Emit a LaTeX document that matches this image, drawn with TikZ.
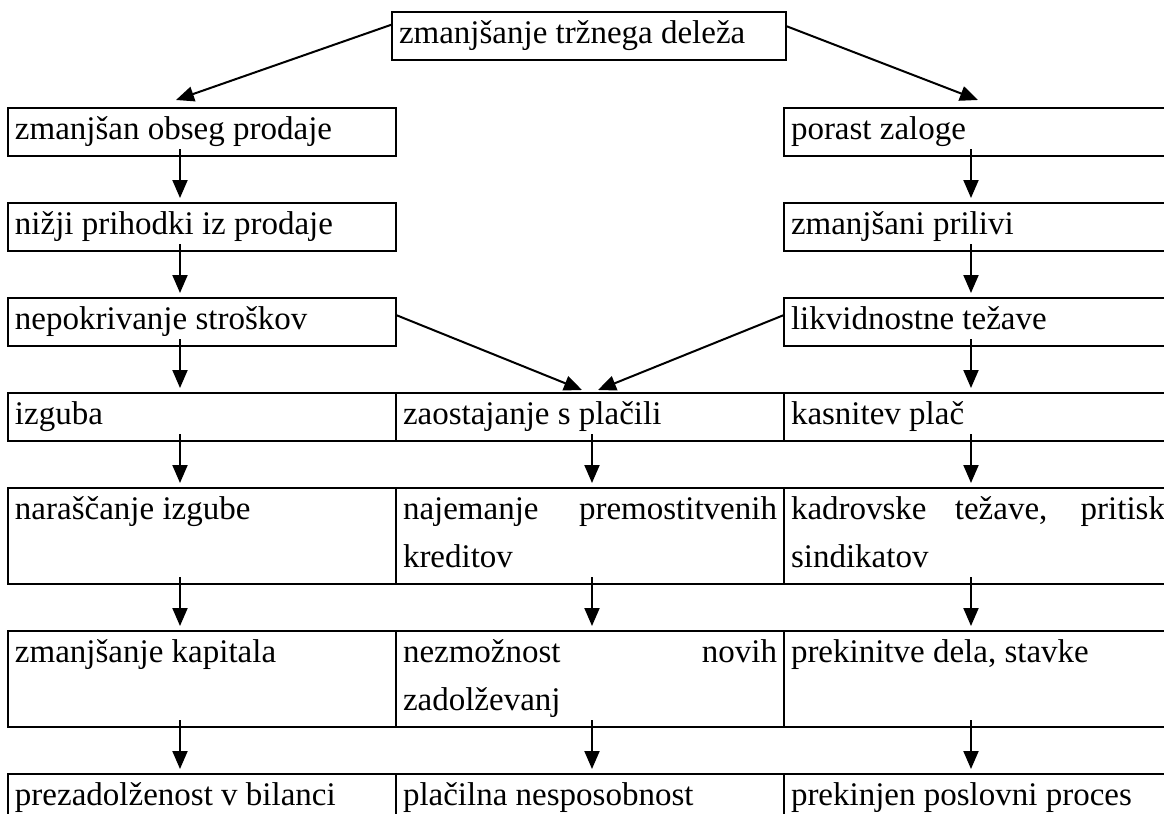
\documentclass[tikz,border=0pt]{standalone}
\usepackage{fontspec}
\setmainfont{Liberation Serif}
\usetikzlibrary{positioning,arrows.meta}
\hyphenpenalty=10000
\exhyphenpenalty=10000
\hbadness=10000
\tikzset{
  cell/.style     = {draw, line width=1pt, rectangle, anchor=north west,
                     inner xsep=3.5pt, inner ysep=0pt, outer sep=0pt,
                     text width=187pt, align=justify,
                     font=\fontsize{16.5}{24}\selectfont,
                     text height=15.6pt, text depth=8.4pt},
  tallcell/.style = {cell, text depth=32.4pt},
  flow/.style     = {black, line width=1pt, -{Triangle[length=9pt,width=7.5pt]}},
  vflow/.style    = {flow, shorten <=-3.5pt, shorten >=2.5pt},
  leftcol/.style  = {transform canvas={xshift=-11pt}},
  midcol/.style   = {transform canvas={xshift=1pt}},
  rightcol/.style = {transform canvas={xshift=-3.5pt}},
}

\begin{document}
\begin{tikzpicture}[node distance=23.5pt and 0pt]
  \useasboundingbox (0,0) rectangle (582pt,-407pt);
  \clip (0,0) rectangle (582pt,-407pt);

  \node[cell, text width=190pt, align=flush left] (delez) at (196pt,-6pt) {zmanjšanje tržnega deleža};

  % levi stolpec
  \node[cell] (obseg) at (4pt,-54pt) {zmanjšan obseg prodaje};
  \node[cell, below=of obseg] (prihodki) {nižji prihodki iz prodaje};
  \node[cell, below=of prihodki] (stroski) {nepokrivanje stroškov};
  \node[cell, below=of stroski] (izguba) {izguba};
  \node[tallcell, below=of izguba] (rast) {naraščanje izgube};
  \node[tallcell, below=of rast] (kapital) {zmanjšanje kapitala};
  \node[cell, below=of kapital] (bilanca) {prezadolženost v bilanci};

  % desni stolpec
  \node[cell] (zaloge) at (392pt,-54pt) {porast zaloge};
  \node[cell, below=of zaloge] (prilivi) {zmanjšani prilivi};
  \node[cell, below=of prilivi] (likvid) {likvidnostne težave};

  % tabela spodaj
  \node[cell, right=of izguba] (zaostaj) {zaostajanje s plačili};
  \node[cell, right=of zaostaj] (place) {kasnitev plač};
  \node[tallcell, right=of rast] (krediti) {najemanje premostitvenih\linebreak kreditov};
  \node[tallcell, right=of krediti] (kadri) {kadrovske težave, pritisk\linebreak sindikatov};
  \node[tallcell, right=of kapital] (zadolz) {nezmožnost novih\linebreak zadolževanj};
  \node[tallcell, right=of zadolz] (stavke) {prekinitve dela, stavke};
  \node[cell, right=of bilanca] (nesposob) {plačilna nesposobnost};
  \node[cell, right=of nesposob] (proces) {prekinjen poslovni proces};

  \draw[flow] ([yshift=5.75pt]delez.west) -- ([xshift=-13pt,yshift=4pt]obseg.north);
  \draw[flow] ([yshift=5pt]delez.east) -- ([yshift=4pt]zaloge.north);
  \draw[flow] ([yshift=3.5pt]stroski.east) -- ([xshift=-4pt,yshift=1.5pt]zaostaj.north);
  \draw[flow] ([yshift=3.5pt]likvid.west) -- ([xshift=4pt,yshift=1.5pt]zaostaj.north);

  \draw[vflow, leftcol] (obseg) -- (prihodki);
  \draw[vflow, leftcol] (prihodki) -- (stroski);
  \draw[vflow, leftcol] (stroski) -- (izguba);
  \draw[vflow, leftcol] (izguba) -- (rast);
  \draw[vflow, leftcol] (rast) -- (kapital);
  \draw[vflow, leftcol] (kapital) -- (bilanca);
  \draw[vflow, midcol] (zaostaj) -- (krediti);
  \draw[vflow, midcol] (krediti) -- (zadolz);
  \draw[vflow, midcol] (zadolz) -- (nesposob);
  \draw[vflow, rightcol] (zaloge) -- (prilivi);
  \draw[vflow, rightcol] (prilivi) -- (likvid);
  \draw[vflow, rightcol] (likvid) -- (place);
  \draw[vflow, rightcol] (place) -- (kadri);
  \draw[vflow, rightcol] (kadri) -- (stavke);
  \draw[vflow, rightcol] (stavke) -- (proces);
\end{tikzpicture}
\end{document}
